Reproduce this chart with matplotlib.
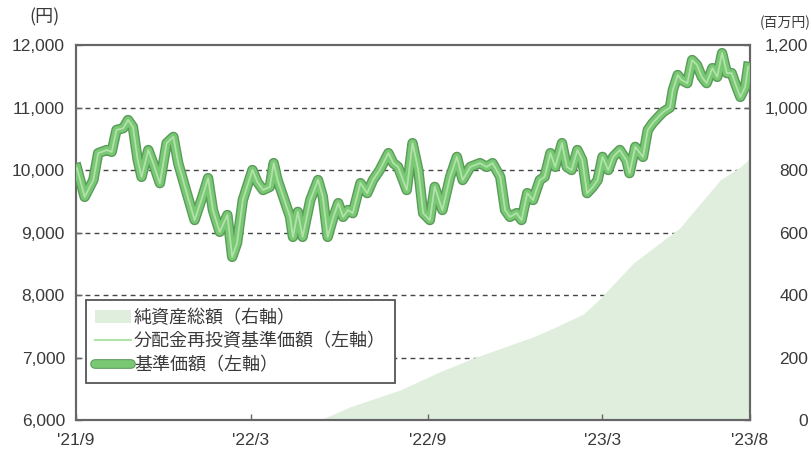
#!/usr/bin/env python3

import numpy as np
import matplotlib
matplotlib.use("Agg")
import matplotlib.pyplot as plt
import matplotlib.patheffects as pe
from matplotlib.patches import Patch
from matplotlib.lines import Line2D

plt.rcParams['font.family'] = ['Liberation Sans', 'Noto Sans CJK JP', 'DejaVu Sans']

# days since 2021-09-01 and fund price (yen)
price_days = [1, 9, 18, 23, 32, 37, 42, 49, 54, 59, 64, 68, 75, 80, 87, 94, 101, 106,
              113, 123, 131, 137, 142, 149, 157, 162, 167, 173, 183, 188, 194, 201, 205,
              209, 215, 222, 225, 230, 235, 243, 251, 256, 261, 267, 272, 277, 282, 287,
              295, 302, 308, 315, 324, 329, 334, 343, 349, 355, 360, 367, 372, 380, 388,
              395, 401, 409, 419, 426, 432, 440, 445, 450, 457, 462, 468, 474, 481, 486,
              492, 497, 504, 509, 514, 520, 525, 530, 536, 541, 546, 552, 557, 564, 571,
              574, 580, 588, 593, 598, 604, 609, 616, 619, 624, 628, 634, 639, 644, 649,
              654, 660, 665, 670, 675, 680, 685, 689, 694, 697]
price = [10030, 9570, 9840, 10270, 10320, 10290, 10640, 10670, 10800, 10690, 10160, 9890,
         10320, 10110, 9790, 10430, 10530, 10110, 9730, 9200, 9570, 9870, 9360, 9010, 9280,
         8610, 8830, 9520, 10000, 9810, 9680, 9730, 10110, 9840, 9570, 9250, 8930, 9330,
         8930, 9520, 9840, 9570, 8930, 9250, 9470, 9250, 9360, 9310, 9790, 9630, 9840,
         10000, 10270, 10110, 10050, 9680, 10430, 10000, 9310, 9200, 9730, 9360, 9890,
         10210, 9840, 10050, 10110, 10050, 10110, 9890, 9360, 9250, 9310, 9200, 9630, 9520,
         9840, 9890, 10270, 10050, 10430, 10050, 10000, 10320, 10160, 9630, 9730, 9840,
         10210, 10000, 10210, 10320, 10150, 9950, 10370, 10210, 10640, 10750, 10850, 10930,
         11000, 11280, 11520, 11440, 11390, 11760, 11680, 11490, 11390, 11630, 11490, 11870,
         11550, 11550, 11330, 11170, 11330, 11650]

# net assets (million yen)
asset_days = [253, 284, 336, 377, 412, 474, 495, 526, 541, 578, 619, 626, 668, 689, 699]
assets = [0, 42, 96, 154, 198, 266, 294, 339, 381, 502, 598, 614, 768, 810, 838]

tick_dates = ['2021-09-01', '2022-03-01', '2022-09-01', '2023-03-01', '2023-08-01']
tick_labels = ["'21/9", "'22/3", "'22/9", "'23/3", "'23/8"]

base = np.datetime64('2021-09-01')
pdates = base + np.array(price_days, dtype='timedelta64[D]')
adates = base + np.array(asset_days, dtype='timedelta64[D]')

area_c = '#e0eede'
line_c = '#78c874'
edge_c = '#5a9a5a'
thin_c = '#b2e2aa'
txt_c = '#3a3a3a'
spine_c = '#666666'
cjk = ['Noto Sans CJK JP', 'DejaVu Sans']

fig = plt.figure(figsize=(8.11, 4.51), dpi=100)
ax2 = fig.add_axes([0.0937, 0.0687, 0.8311, 0.8315])
ax = fig.add_axes([0.0937, 0.0687, 0.8311, 0.8315], sharex=ax2)
ax.patch.set_visible(False)

# right axis: net assets area + dashed grid (grid sits under the area)
for v in [200, 400, 600, 800, 1000]:
    ax2.axhline(v, color='#444444', lw=1.0, ls=(0, (3.5, 3)), zorder=1)
ax2.fill_between(adates, 0, assets, color=area_c, lw=0, zorder=2)
ax2.set_ylim(0, 1200)
ax2.set_yticks([0, 200, 400, 600, 800, 1000, 1200])
ax2.set_yticklabels(['0', '200', '400', '600', '800', '1,000', '1,200'])
ax2.yaxis.tick_right()
ax2.tick_params(axis='y', direction='in', length=4, width=1, color=spine_c,
                labelsize=12.5, labelcolor=txt_c, pad=42)
for lab in ax2.get_yticklabels():
    lab.set_horizontalalignment('right')

# left axis: price lines
ax.plot(pdates, price, color=line_c, lw=5.5, solid_joinstyle='round',
        path_effects=[pe.Stroke(linewidth=7.5, foreground=edge_c), pe.Normal()], zorder=3)
ax.plot(pdates, price, color=thin_c, lw=1.3, zorder=4)
ax.set_ylim(6000, 12000)
ax.set_yticks(range(6000, 12001, 1000))
ax.set_yticklabels([f'{v:,}' for v in range(6000, 12001, 1000)])
ax.tick_params(axis='y', direction='in', length=4, width=1, color=spine_c,
               labelsize=12.5, labelcolor=txt_c, pad=8)

xt = [np.datetime64(d) for d in tick_dates]
ax.set_xlim(np.datetime64('2021-09-01'), np.datetime64('2023-08-01'))
ax.set_xticks(xt)
ax.set_xticklabels(tick_labels)
ax.tick_params(axis='x', direction='in', length=4, width=1, color=spine_c,
               labelsize=12.5, labelcolor=txt_c, pad=9)
ax2.tick_params(axis='x', bottom=False, labelbottom=False)

for a in (ax, ax2):
    for s in a.spines.values():
        s.set_color(spine_c)
        s.set_linewidth(1.5)

fig.text(0.055, 0.962, '(円)', fontsize=13, color=txt_c, ha='center', va='center',
         family=cjk)
fig.text(0.968, 0.950, '(百万円)', fontsize=10, color=txt_c, ha='center', va='center',
         family=cjk)

handles = [Patch(facecolor=area_c, edgecolor='none'),
           Line2D([], [], color=thin_c, lw=1.5),
           Line2D([], [], color=line_c, lw=5.5, solid_capstyle='round',
                  path_effects=[pe.Stroke(linewidth=7, foreground=edge_c), pe.Normal()])]
labels = ['純資産総額（右軸）', '分配金再投資基準価額（左軸）', '基準価額（左軸）']
leg = ax.legend(handles, labels, loc='upper left', bbox_to_anchor=(0.015, 0.32),
                borderaxespad=0, fancybox=False, framealpha=1, edgecolor='#555555',
                prop={'family': cjk, 'size': 13},
                handlelength=2.0, handletextpad=0.15, labelspacing=0.3,
                borderpad=0.5, labelcolor=txt_c)
leg.get_frame().set_linewidth(1.3)

fig.savefig('out.png', dpi=100)
plt.close()
